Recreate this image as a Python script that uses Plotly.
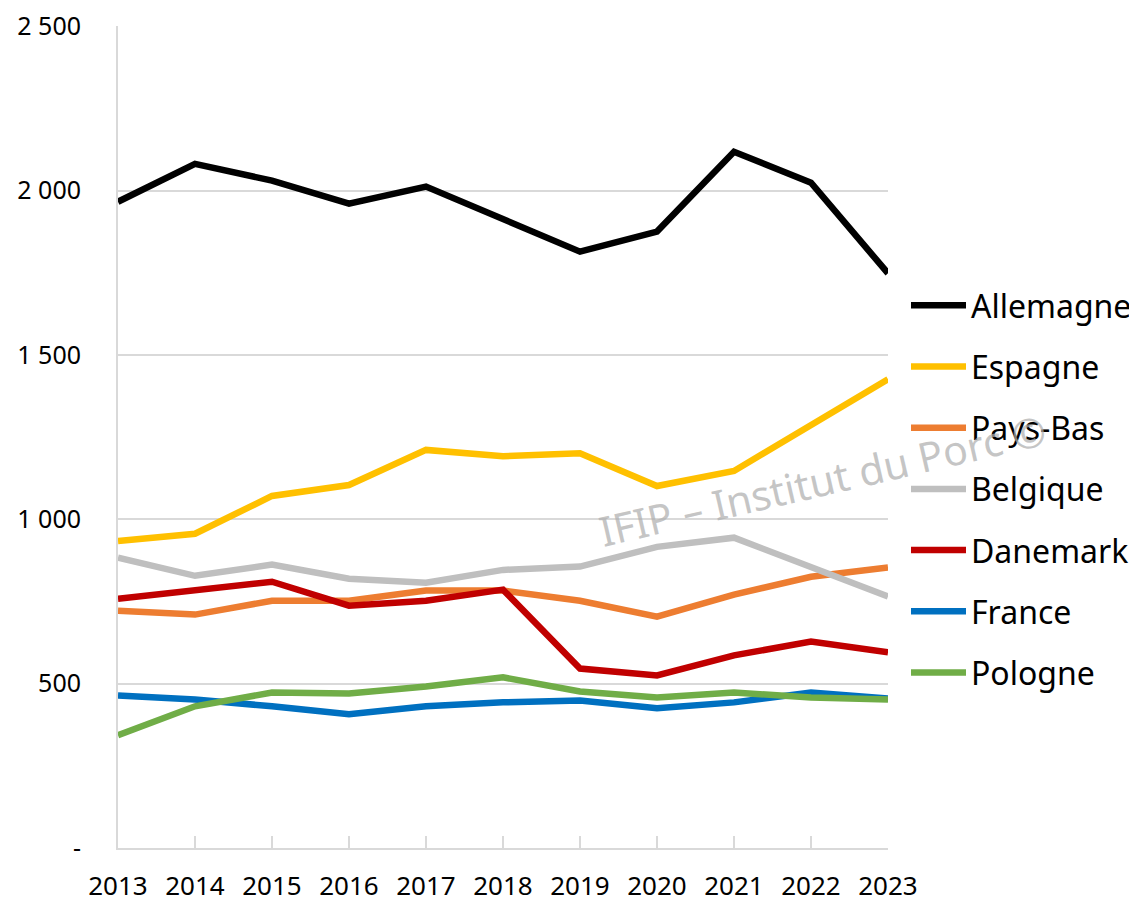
import plotly.graph_objects as go

years = [2013, 2014, 2015, 2016, 2017, 2018, 2019, 2020, 2021, 2022, 2023]

allemagne = [1966, 2081, 2030, 1960, 2012, 1911, 1814, 1875, 2118, 2024, 1748]
espagne = [934, 956, 1071, 1104, 1211, 1192, 1201, 1101, 1147, 1286, 1426]
pays_bas = [722, 710, 752, 752, 783, 783, 752, 704, 771, 825, 853]
belgique = [883, 828, 862, 819, 807, 846, 856, 916, 944, 856, 765]
danemark = [758, 783, 810, 737, 752, 786, 546, 525, 586, 628, 595]
france = [464, 452, 431, 407, 431, 443, 449, 425, 443, 473, 455]
pologne = [343, 431, 473, 470, 491, 519, 476, 458, 473, 458, 452]

series = [
    ("Allemagne", allemagne, "#000000"),
    ("Espagne", espagne, "#FFC000"),
    ("Pays-Bas", pays_bas, "#ED7D31"),
    ("Belgique", belgique, "#BFBFBF"),
    ("Danemark", danemark, "#C00000"),
    ("France", france, "#0070C0"),
    ("Pologne", pologne, "#70AD47"),
]

y_tickvals = [0, 500, 1000, 1500, 2000, 2500]
y_ticktext = ["-", "500", "1 000", "1 500", "2 000", "2 500"]

FONT = "Noto Sans"
W, H = 1129, 894
T, B = 18, 54

fig = go.Figure()
for name, vals, color in series:
    fig.add_trace(go.Scatter(
        x=years, y=vals, name=name, mode="lines",
        line=dict(color=color, width=6.5),
        legendgroup=name,
    ))

fig.update_layout(
    width=W, height=H,
    margin=dict(l=110, r=249, t=T, b=B, autoexpand=False),
    plot_bgcolor="white", paper_bgcolor="white",
    font=dict(family=FONT, color="#000000"),
    showlegend=True,
    legend=dict(
        xref="container", yref="container",
        x=898 / W, y=1 - 270 / H,
        xanchor="left", yanchor="top",
        font=dict(family=FONT, size=32, color="#000000"),
        tracegroupgap=16.6,
        bgcolor="rgba(0,0,0,0)",
        itemwidth=55,
    ),
    xaxis=dict(
        range=[2013, 2023],
        tickvals=years,
        ticktext=[str(y) for y in years],
        showgrid=False,
        showline=True, linecolor="#D9D9D9", linewidth=2,
        ticks="inside", ticklen=12, tickcolor="#D9D9D9", tickwidth=2,
        tickfont=dict(family=FONT, size=26),
        ticklabelstandoff=14,
        ticklabeloverflow="allow",
        zeroline=False,
    ),
    yaxis=dict(
        range=[0, 2500.5],
        tickvals=y_tickvals,
        ticktext=y_ticktext,
        showgrid=True, gridcolor="#D9D9D9", gridwidth=2,
        showline=True, linecolor="#D9D9D9", linewidth=2,
        ticks="", ticklabelstandoff=30,
        ticklabeloverflow="allow",
        tickfont=dict(family=FONT, size=25),
        zeroline=False,
    ),
    annotations=[dict(
        text="IFIP – Institut du Porc ©",
        xref="paper", yref="paper",
        x=(814 - 110) / 770, y=(840 - 472) / 822,
        xanchor="center", yanchor="middle",
        showarrow=False, textangle=-13,
        font=dict(family=FONT, size=41, color="rgba(175,175,175,0.72)"),
    )],
)

fig.write_html("out.html")
